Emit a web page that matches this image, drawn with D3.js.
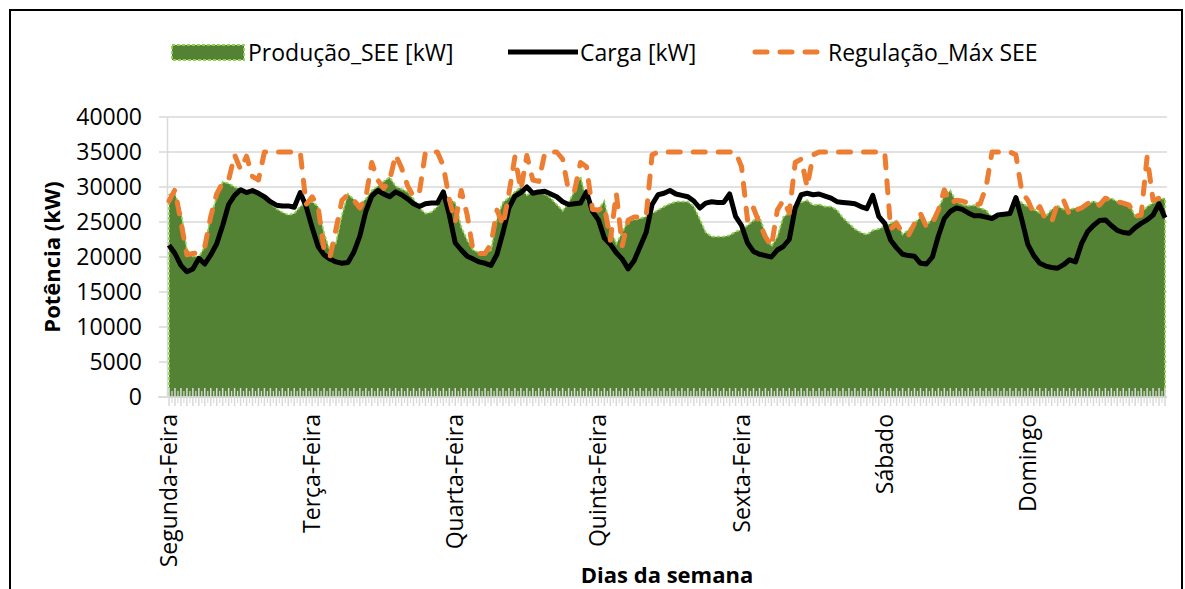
<!DOCTYPE html>
<meta charset="utf-8">
<html>
<head>
    <title>Produção vs Carga</title>
</head>
<style>
    *{ margin:0; padding:0;}
    body{ background:#fff;}
    text{ font-family:'Open Sans', 'DejaVu Sans', sans-serif; fill:#000;}
</style>
<script src="https://cdn.jsdelivr.net/npm/d3@7/dist/d3.min.js"></script>
<div id="chartContainer"></div>
<script type="text/javascript">

    // dias da semana (cada um com 24 horas)
    var days = ["Segunda-Feira", "Terça-Feira", "Quarta-Feira", "Quinta-Feira", "Sexta-Feira", "Sábado", "Domingo"];
    var yTicks = [0, 5000, 10000, 15000, 20000, 25000, 30000, 35000, 40000];

    // Produção_SEE [kW]
    var producao = [
        28900, 29000, 26500, 21000, 20100, 20000, 21500, 25800, 28500, 30700, 30500, 30000,
        29700, 29400, 29500, 29300, 28900, 27700, 26900, 26400, 26000, 26200, 27200, 27700,
        27900, 27200, 23400, 20800, 22000, 26000, 29000, 28200, 27500, 28300, 29500, 30100,
        30800, 31400, 30100, 29700, 29300, 28300, 27000, 26200, 26400, 27200, 28800, 28400,
        27700, 24300, 22400, 21000, 20600, 20500, 21000, 25500, 27800, 28500, 29300, 30000,
        28800, 29300, 29600, 29000, 28400, 27500, 26600, 27700, 29500, 31500, 28000, 26800,
        26800, 28000, 23900, 21900, 23500, 25300, 25300, 25500, 25800, 26200, 26700, 27200,
        27600, 27900, 27900, 27900, 27200, 25400, 23500, 22900, 22900, 22900, 23100, 23600,
        23900, 24500, 25200, 25700, 23400, 21500, 22900, 25700, 26300, 27400, 27800, 28100,
        27400, 27500, 27200, 27200, 26700, 25600, 24800, 24000, 23500, 23200, 23800, 24000,
        24400, 24800, 25200, 23200, 23900, 24800, 25700, 24500, 25500, 27000, 28700, 29500,
        27900, 27500, 27300, 27400, 27000, 26700, 25600, 25700, 26000, 26500, 28500, 27700,
        27200, 26800, 26300, 25800, 26800, 27300, 26800, 26800, 27000, 27100, 27400, 28000,
        27500, 28000, 28400, 27900, 27800, 27600, 25800, 26200, 27200, 27700, 28200, 28400
    ];

    // Carga [kW]
    var carga = [
        21700, 20500, 18800, 17900, 18300, 19800, 19000, 20300, 21900, 24500, 27500, 28800,
        29600, 29200, 29500, 29100, 28600, 27900, 27400, 27300, 27300, 27100, 29200, 27200,
        24200, 21500, 20300, 19700, 19300, 19100, 19200, 20700, 23000, 26500, 28700, 29500,
        29000, 28600, 29300, 28900, 28300, 27600, 27200, 27600, 27700, 27700, 29300, 26000,
        22000, 21000, 20100, 19700, 19300, 19100, 18800, 20400, 23500, 27000, 28700, 29200,
        30000, 29100, 29300, 29400, 29000, 28600, 27900, 27500, 27600, 27700, 29300, 26500,
        25300, 22700, 21800, 20600, 19700, 18300, 19500, 21500, 23500, 27500, 28900, 29100,
        29500, 29000, 28800, 28600, 28000, 27000, 27700, 27900, 27800, 27800, 29000, 25800,
        24500, 22000, 20800, 20400, 20200, 20000, 21000, 21500, 22500, 27000, 28900, 29100,
        28900, 29000, 28700, 28400, 27900, 27800, 27700, 27600, 27200, 26900, 28800, 25800,
        24800, 22400, 21300, 20400, 20200, 20100, 19100, 19000, 20000, 23000, 25500, 26500,
        27000, 26800, 26300, 25900, 25900, 25700, 25500, 26000, 26100, 26200, 28500, 25300,
        21800, 20200, 19100, 18700, 18500, 18400, 18900, 19600, 19300, 21900, 23600, 24500,
        25200, 25300, 24500, 23800, 23500, 23400, 24200, 24800, 25300, 26000, 27600, 25600
    ];

    // Regulação_Máx SEE
    var regulacao = [
        28000, 29600, 25000, 20300, 20500, 20600, 21500, 25800, 29000, 30600, 31000, 34600,
        32500, 34400, 31500, 31000, 35000, 35000, 35000, 35000, 35000, 35000, 35000, 27500,
        28600, 27200, 21000, 20000, 24000, 28100, 28900, 28100, 27000, 28500, 33500, 31000,
        29800, 31000, 34600, 32700, 30200, 28600, 29300, 35000, 35000, 35000, 33000, 28200,
        25000, 29500, 26000, 20800, 20500, 20500, 21900, 26700, 24500, 29100, 34300, 29600,
        34500, 31000, 30800, 34800, 35000, 35000, 34000, 29400, 29500, 33500, 32900, 26800,
        26700, 27200, 22400, 29100, 21600, 25300, 25700, 25700, 25800, 34600, 35000, 35000,
        35000, 35000, 35000, 35000, 35000, 35000, 35000, 35000, 35000, 35000, 35000, 35000,
        32900, 25300, 27000, 24800, 22900, 21500, 26700, 28100, 26300, 33500, 34000, 30000,
        34600, 35000, 35000, 35000, 35000, 35000, 35000, 35000, 35000, 35000, 35000, 35000,
        35000, 24000, 24800, 23400, 23100, 24800, 26200, 24300, 24800, 26700, 29600, 27700,
        28100, 28000, 27700, 27400, 27600, 30000, 35000, 35000, 35000, 35000, 34600, 29300,
        28100, 26200, 27200, 25300, 25000, 27700, 28100, 26000, 26700, 27000, 27600, 28100,
        27400, 28400, 28100, 27900, 27700, 27400, 25800, 26000, 34300, 28100, 28400, 28100
    ];

    var W = 1185, H = 589;
    var hours = d3.range(days.length * 24);

    var svg = d3.select("#chartContainer").append("svg")
        .attr("width", W).attr("height", H);

    // moldura do gráfico
    svg.append("rect")
        .attr("x", 10).attr("y", 10).attr("width", 1172).attr("height", 620)
        .attr("fill", "none").attr("stroke", "#000").attr("stroke-width", 2);

    var x = d3.scalePoint().domain(hours).range([169, 1165]);
    var y = d3.scaleLinear().domain([0, 40000]).range([397, 117]);

    // grelha
    svg.append("g").selectAll("line").data(yTicks).enter().append("line")
        .attr("x1", 159).attr("x2", 1167)
        .attr("y1", function(d){ return y(d); }).attr("y2", function(d){ return y(d); })
        .attr("stroke", "#d9d9d9").attr("stroke-width", 1.5);

    // eixo y
    var yAxis = svg.append("g").attr("transform", "translate(167,0)")
        .call(d3.axisLeft(y).tickValues(yTicks).tickSize(0).tickPadding(25).tickFormat(d3.format("d")));
    yAxis.select(".domain").attr("stroke", "#d9d9d9").attr("stroke-width", 1.5);
    yAxis.selectAll("text").style("font-size", "23px").style("font-family", "'Open Sans', sans-serif").attr("fill", "#000");

    // área da produção
    var area = d3.area()
        .x(function(d, i){ return x(i); })
        .y0(y(0))
        .y1(function(d){ return y(d); });
    svg.append("path").datum(producao)
        .attr("d", area)
        .attr("fill", "#548235")
        .attr("stroke", "#92d050").attr("stroke-width", 1.8)
        .attr("stroke-dasharray", "3,2");

    // marcas do eixo x (cruzadas)
    var ticks = svg.append("g");
    ticks.selectAll("line.maj").data(hours).enter().append("line")
        .attr("class", "maj")
        .attr("x1", function(d){ return x(d); }).attr("x2", function(d){ return x(d); })
        .attr("y1", 388).attr("y2", 406)
        .attr("stroke", "#d9d9d9").attr("stroke-width", 1.5);
    ticks.selectAll("line.min").data(hours.slice(0, -1)).enter().append("line")
        .attr("class", "min")
        .attr("x1", function(d){ return x(d) + x.step() / 2; }).attr("x2", function(d){ return x(d) + x.step() / 2; })
        .attr("y1", 391).attr("y2", 403)
        .attr("stroke", "#d9d9d9").attr("stroke-width", 1.2);
    svg.append("line")
        .attr("x1", 158).attr("x2", 1167).attr("y1", y(0)).attr("y2", y(0))
        .attr("stroke", "#d9d9d9").attr("stroke-width", 1.5);

    var line = d3.line()
        .x(function(d, i){ return x(i); })
        .y(function(d){ return y(d); });

    svg.append("path").datum(carga)
        .attr("d", line)
        .attr("fill", "none").attr("stroke", "#000")
        .attr("stroke-width", 5).attr("stroke-linejoin", "round");

    svg.append("path").datum(regulacao)
        .attr("d", line)
        .attr("fill", "none").attr("stroke", "#ed7d31")
        .attr("stroke-width", 5).attr("stroke-linecap", "round").attr("stroke-linejoin", "round")
        .attr("stroke-dasharray", "12,13");

    // rótulos dos dias
    svg.append("g").selectAll("text").data(days).enter().append("text")
        .attr("transform", function(d, i){ return "translate(" + x(i * 24) + ",414) rotate(-90)"; })
        .attr("dy", "0.35em")
        .attr("text-anchor", "end")
        .style("font-size", "23px")
        .text(function(d){ return d; });

    // títulos dos eixos
    svg.append("text")
        .attr("transform", "translate(52,257) rotate(-90)")
        .attr("dy", "0.35em")
        .attr("text-anchor", "middle")
        .style("font-size", "22px").style("font-weight", "bold")
        .text("Potência (kW)");
    svg.append("text")
        .attr("x", 667).attr("y", 583)
        .attr("text-anchor", "middle")
        .style("font-size", "22px").style("font-weight", "bold")
        .text("Dias da semana");

    // legenda
    var leg = svg.append("g");
    leg.append("rect")
        .attr("x", 172).attr("y", 45).attr("width", 72).attr("height", 15)
        .attr("fill", "#548235").attr("stroke", "#92d050").attr("stroke-width", 1.8)
        .attr("stroke-dasharray", "3,2");
    leg.append("text").attr("x", 248).attr("y", 61).style("font-size", "23px").text("Produção_SEE [kW]");
    leg.append("line")
        .attr("x1", 508).attr("x2", 578).attr("y1", 52).attr("y2", 52)
        .attr("stroke", "#000").attr("stroke-width", 5);
    leg.append("text").attr("x", 580).attr("y", 61).style("font-size", "23px").text("Carga [kW]");
    leg.append("line")
        .attr("x1", 755).attr("x2", 822).attr("y1", 52).attr("y2", 52)
        .attr("stroke", "#ed7d31").attr("stroke-width", 5).attr("stroke-linecap", "round")
        .attr("stroke-dasharray", "12,13");
    leg.append("text").attr("x", 828).attr("y", 61).style("font-size", "23px").text("Regulação_Máx SEE");

</script>
</html>
